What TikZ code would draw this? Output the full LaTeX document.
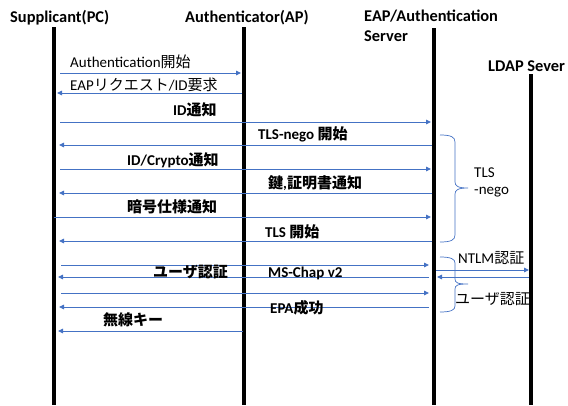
\documentclass[tikz,border=0pt]{standalone}
\usepackage{fontspec}
\setmainfont{Carlito}
\newfontfamily\jp{Noto Sans CJK JP}
\usetikzlibrary{arrows.meta,calc}
\definecolor{arrowblue}{HTML}{4472C4}
\begin{document}
\begin{tikzpicture}[x=1pt,y=-1pt,
  life/.style={line width=3.6pt},
  msg/.style={draw=arrowblue, line width=0.9pt, -{Triangle[length=5pt,width=4.5pt]}},
  bracestyle/.style={draw=arrowblue, line width=0.7pt},
  hdr/.style={font=\fontsize{16.4}{19}\selectfont\bfseries, inner sep=0pt, anchor=base west},
  lbl/.style={font=\fontsize{15}{17}\selectfont\bfseries, inner sep=0pt, anchor=base west},
  nlbl/.style={font=\fontsize{15}{17}\selectfont, inner sep=0pt, anchor=base west}]
\useasboundingbox (0,0) rectangle (568,405);

% headers
\node[hdr] (hS) at (10,22) {Supplicant(PC)};
\node[hdr] (hA) at (185,22) {Authenticator(AP)};
\node[hdr] (hE) at (364,21) {EAP/Authentication};
\node[hdr] (hE2) at (364,41) {Server};
\node[hdr] (hL) at (488,71) {LDAP Sever};

% lifelines
\coordinate (S) at (54,27);
\coordinate (A) at (244,27);
\coordinate (E) at (434,28);
\coordinate (L) at (531,74);
\coordinate (Sb) at (54,405);
\coordinate (Ab) at (244,405);
\coordinate (Eb) at (434,405);
\coordinate (Lb) at (531,405);
\draw[life] (S) -- (Sb);
\draw[life] (A) -- (Ab);
\draw[life] (E) -- (Eb);
\draw[life] (L) -- (Lb);

% messages
\draw[msg] ($(S |- 0,73)+(6,0)$) -- ($(A |- 0,73)+(-3,0)$);
\draw[msg] ($(A |- 0,93)+(-2,0)$) -- ($(S |- 0,93)+(3,0)$);
\draw[msg] ($(S |- 0,122)+(6,0)$) -- ($(E |- 0,122)+(-3,0)$);
\draw[msg] ($(E |- 0,145)+(-2,0)$) -- ($(S |- 0,145)+(5,0)$);
\draw[msg] ($(S |- 0,169)+(6,0)$) -- ($(E |- 0,169)+(-3,0)$);
\draw[msg] ($(E |- 0,193)+(-2,0)$) -- ($(S |- 0,193)+(5,0)$);
\draw[msg] ($(S |- 0,217)+(0,0)$) -- ($(E |- 0,217)+(-3,0)$);
\draw[msg] ($(E |- 0,241)+(-2,0)$) -- ($(S |- 0,241)+(5,0)$);
\draw[msg] ($(S |- 0,265)+(7,0)$) -- ($(E |- 0,265)+(-5,0)$);
\draw[msg] ($(E |- 0,277)+(-5,0)$) -- ($(S |- 0,277)+(4,0)$);
\draw[msg] ($(S |- 0,293)+(7,0)$) -- ($(E |- 0,293)+(-5,0)$);
\draw[msg] ($(E |- 0,307)+(-5,0)$) -- ($(S |- 0,307)+(5,0)$);
\draw[msg] ($(A |- 0,331)+(-1,0)$) -- ($(S |- 0,331)+(4,0)$);
\draw[msg] ($(E |- 0,270)+(2,0)$) -- ($(L |- 0,270)+(-2,0)$);
\draw[msg] ($(L |- 0,277)+(-2,0)$) -- ($(E |- 0,277)+(3,0)$);

% labels
\node[nlbl] (m1) at (70,67) {Authentication{\jp 開始}};
\node[nlbl] (m2) at (70,90) {EAP{\jp リクエスト}/ID{\jp 要求}};
\node[lbl] (m3) at (173,115) {ID{\jp 通知}};
\node[lbl] (m4) at (258,139) {TLS-nego {\jp 開始}};
\node[lbl] (m5) at (127,165) {ID/Crypto{\jp 通知}};
\node[lbl] (m6) at (268,188) {{\jp 鍵},{\jp 証明書通知}};
\node[lbl] (m7) at (127,212) {\jp 暗号仕様通知};
\node[lbl] (m8) at (265,237) {TLS {\jp 開始}};
\node[lbl] (m9) at (153,277) {\jp ユーザ認証};
\node[lbl] (m10) at (268,277) {MS-Chap v2};
\node[lbl] (m11) at (270,313) {EPA{\jp 成功}};
\node[lbl] (m12) at (103,325) {\jp 無線キー};

% braces
\draw[bracestyle] (440,135) .. controls (451,135) and (455,137) .. (455,142)
  -- (455,182) .. controls (455,186) and (458,188) .. (468,188)
  (468,188) .. controls (458,188) and (455,190) .. (455,194)
  -- (455,235) .. controls (455,240) and (451,242) .. (440,242);
\draw[bracestyle] (440,257) .. controls (451,257) and (455,259) .. (455,263)
  -- (455,279) .. controls (455,283) and (458,284) .. (468,284)
  (468,284) .. controls (458,284) and (455,285) .. (455,289)
  -- (455,306) .. controls (455,310) and (451,312) .. (440,312);
\node[nlbl] (b1) at (474,177) {TLS};
\node[nlbl] (b2) at (474,194) {-nego};
\node[nlbl] (b3) at (458,263) {NTLM{\jp 認証}};
\node[nlbl] (b4) at (455,304) {\jp ユーザ認証};
\end{tikzpicture}
\end{document}
